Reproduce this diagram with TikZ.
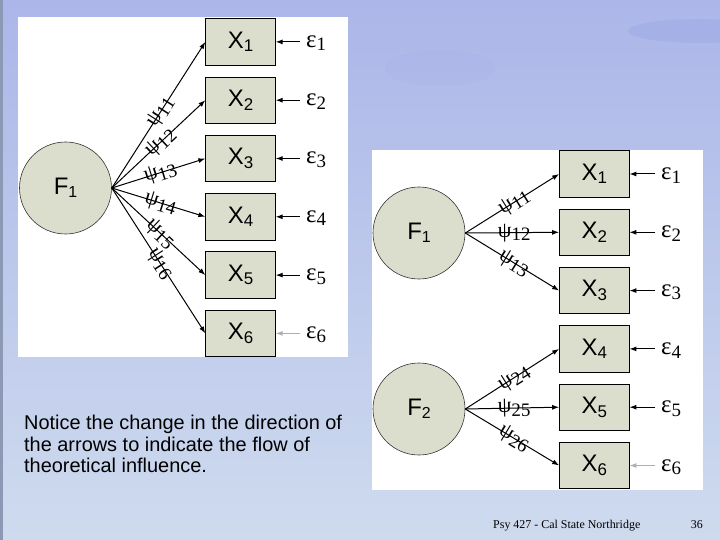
\documentclass[tikz,border=0pt]{standalone}
\usepackage{fontspec}
\setmainfont{Liberation Serif}
\newfontfamily\arialf{Liberation Sans}
\newfontfamily\timesf{Liberation Serif}
\usetikzlibrary{arrows.meta,shapes.geometric}
\definecolor{boxfill}{RGB}{220,222,205}
\definecolor{bgtop}{RGB}{172,182,233}
\definecolor{bgmid}{RGB}{198,209,239}
\definecolor{bgbot}{RGB}{206,219,238}
\definecolor{blobc}{RGB}{160,172,228}
\definecolor{edgec}{RGB}{140,152,180}
\definecolor{errgray}{RGB}{175,175,175}
\newcommand{\Xlab}[1]{X\raisebox{-3.5bp}{\fontsize{17}{17}\selectfont #1}}
\newcommand{\Flab}[1]{F\raisebox{-3.5bp}{\fontsize{16}{16}\selectfont #1}}
\newcommand{\Elab}[1]{ε\raisebox{-3.6bp}{\fontsize{19}{19}\selectfont #1}}
\newcommand{\Plab}[1]{ψ\raisebox{-4bp}{\fontsize{19}{19}\selectfont #1}}
\tikzset{
  obs/.style={draw=black, line width=0.8bp, fill=boxfill, minimum width=69.5bp, minimum height=46.5bp, inner sep=0, font=\arialf\fontsize{24}{24}\selectfont},
  lat/.style={circle, draw=black!80, line width=0.6bp, fill=boxfill, minimum size=92bp, inner sep=0, font=\arialf\fontsize{24}{24}\selectfont},
  load/.style={-{Latex[length=7bp,width=5bp]}, line width=1bp},
  errarrow/.style={-{Latex[length=7bp,width=5bp]}, line width=1bp},
  errnode/.style={anchor=base west, inner xsep=6bp, inner ysep=0, font=\timesf\fontsize{25}{25}\selectfont},
  psilab/.style={sloped, pos=0.52, inner sep=0, font=\timesf\fontsize{22}{22}\selectfont},
}
\begin{document}
\begin{tikzpicture}[x=1bp,y=-1bp]
\useasboundingbox (0,0) rectangle (720,540);
% background
\shade[top color=bgtop, middle color=bgmid, bottom color=bgbot] (0,0) rectangle (720,540);
\fill[blobc, opacity=0.6] (700,31) ellipse [x radius=72, y radius=12];
\fill[blobc, opacity=0.15] (440,68) ellipse [x radius=55, y radius=18];
\fill[edgec] (0,0) rectangle (2.5,540);
% panels
\fill[white] (18,17) rectangle (348,357);
\fill[white] (372,150) rectangle (703,490);
% left diagram
\node[lat] (lf1) at (65.5,188) {\Flab{1}};
\foreach \i/\y in {1/41.9,2/100.2,3/158.5,4/216.8,5/275.1,6/333.4}{
  \node[obs] (lx\i) at (240.5,\y) {\Xlab{\i}};
  \node[errnode] (le\i) at (300,\y+5.5) {\Elab{\i}};
}
\foreach \i in {1,...,5}{\draw[errarrow] (le\i.west |- lx\i.east) -- (lx\i.east);}
\draw[errarrow, draw=errgray, fill=errgray] (le6.west |- lx6.east) -- (lx6.east);
\foreach \i in {1,...,6}{
  \draw[load] (lf1.east) -- node[psilab] {\Plab{1\i}} (lx\i.west);
}
% right diagram
\node[lat] (rf1) at (419,233) {\Flab{1}};
\node[lat] (rf2) at (419,409) {\Flab{2}};
\foreach \i/\y in {1/174,2/232.3,3/290.6,4/348.9,5/407.2,6/465.5}{
  \node[obs] (rx\i) at (594.3,\y) {\Xlab{\i}};
  \node[errnode] (re\i) at (655,\y+5.5) {\Elab{\i}};
}
\foreach \i in {1,...,5}{\draw[errarrow] (re\i.west |- rx\i.east) -- (rx\i.east);}
\draw[errarrow, draw=errgray, fill=errgray] (re6.west |- rx6.east) -- (rx6.east);
\foreach \i in {1,2,3}{
  \draw[load] (rf1.east) -- node[psilab] {\Plab{1\i}} (rx\i.west);
}
\foreach \i in {4,5,6}{
  \draw[load] (rf2.east) -- node[psilab] {\Plab{2\i}} (rx\i.west);
}
% text
\node[anchor=north west, inner sep=0, align=left, font=\arialf\fontsize{20}{22}\selectfont] (note) at (24,414.5)
  {Notice the change in the direction of\\the arrows to indicate the flow of\\theoretical influence.};
\node[anchor=base west, inner sep=0, font=\timesf\fontsize{12}{12}\selectfont] (foot) at (493,528) {Psy 427 - Cal State Northridge};
\node[anchor=base east, inner sep=0, font=\timesf\fontsize{12}{12}\selectfont] (pnum) at (703,528) {36};
\end{tikzpicture}
\end{document}
